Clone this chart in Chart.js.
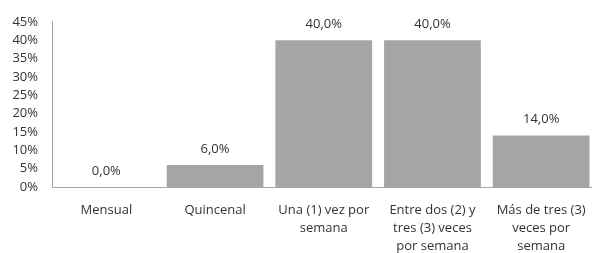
<!DOCTYPE html>
<html lang="es">
<head>
    <meta charset="UTF-8">
    <title>Frecuencia</title>
    <script src="https://cdn.jsdelivr.net/npm/chart.js"></script>
    <style>
        body {
            margin: 0;
            background-color: #fff;
            overflow: hidden;
        }

        #chart-container {
            width: 600px;
            height: 253px;
            position: relative;
        }
    </style>
</head>
<body>
<div id="chart-container">
    <canvas id="freqChart"></canvas>
</div>
<script>
    // datos
    var categorias = [
        "Mensual",
        "Quincenal",
        ["Una (1) vez por", "semana"],
        ["Entre dos (2) y", "tres (3) veces", "por semana"],
        ["Más de tres (3)", "veces por", "semana"]
    ];
    var porcentajes = [0, 6, 40, 40, 14];
    var ticksY = [0, 5, 10, 15, 20, 25, 30, 35, 40, 45];

    var textColor = "#333333";
    var fontFamily = "'Open Sans', 'Liberation Sans', sans-serif";

    // etiquetas de valor encima de las barras
    var valueLabels = {
        id: "valueLabels",
        afterDatasetsDraw: function (chart) {
            var ctx = chart.ctx;
            var meta = chart.getDatasetMeta(0);
            ctx.save();
            ctx.fillStyle = textColor;
            ctx.font = "13px " + fontFamily;
            ctx.textAlign = "center";
            ctx.textBaseline = "middle";
            meta.data.forEach(function (bar, i) {
                var txt = porcentajes[i].toFixed(1).replace(".", ",") + "%";
                ctx.fillText(txt, bar.x, bar.y - 16);
            });
            ctx.restore();
        }
    };

    var ctx = document.getElementById("freqChart").getContext("2d");
    var myChart = new Chart(ctx, {
        type: "bar",
        data: {
            labels: categorias,
            datasets: [{
                data: porcentajes,
                backgroundColor: "#a5a5a5",
                borderWidth: 0,
                barPercentage: 0.89,
                categoryPercentage: 1
            }]
        },
        options: {
            responsive: true,
            maintainAspectRatio: false,
            animation: false,
            layout: {
                padding: { top: 19, right: 3, bottom: 0, left: 0 }
            },
            plugins: {
                legend: { display: false },
                tooltip: { enabled: false }
            },
            scales: {
                x: {
                    grid: { display: false, drawTicks: false },
                    border: { display: true, color: "#a6a6a6", width: 1 },
                    ticks: {
                        color: textColor,
                        font: { family: fontFamily, size: 13, lineHeight: 1.4 },
                        padding: 14,
                        maxRotation: 0,
                        autoSkip: false
                    },
                    afterFit: function (scale) { scale.height = 66; }
                },
                y: {
                    min: 0,
                    max: 45,
                    afterBuildTicks: function (scale) {
                        scale.ticks = ticksY.map(function (v) { return { value: v }; });
                    },
                    grid: { display: false, drawTicks: false },
                    border: { display: true, color: "#a6a6a6", width: 1 },
                    ticks: {
                        color: textColor,
                        font: { family: fontFamily, size: 13 },
                        padding: 14,
                        autoSkip: false,
                        callback: function (v) { return v + "%"; }
                    },
                    afterFit: function (scale) { scale.width = 52; }
                }
            }
        },
        plugins: [valueLabels]
    });
</script>
</body>
</html>
